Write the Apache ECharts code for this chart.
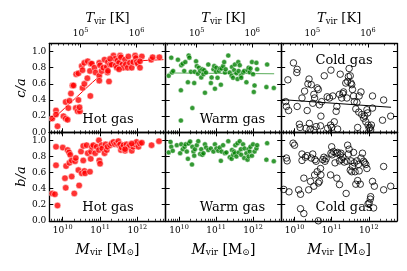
<!DOCTYPE html>
<html><head><meta charset="utf-8">
<script src="https://cdn.jsdelivr.net/npm/echarts@6/dist/echarts.min.js"></script>
<style>html,body{margin:0;padding:0;background:#fff}#c{width:407px;height:271px}</style>
</head><body><div id="c"></div>
<script>
// x values are log10(M_vir / M_sun), y values are axis ratios
const hotCA = [[9.72,0.17],[9.82,0.27],[9.82,0.22],[9.86,0.075],[10.02,0.20],[10.08,0.17],[10.13,0.155],[10.08,0.375],[10.15,0.30],[10.18,0.39],[10.22,0.48],[10.26,0.58],[10.29,0.58],[10.35,0.30],[10.40,0.26],[10.42,0.40],[10.46,0.26],[10.45,0.31],[10.36,0.72],[10.42,0.73],[10.51,0.82],[10.53,0.77],[10.58,0.86],[10.67,0.88],[10.53,0.55],[10.58,0.60],[10.66,0.67],[10.73,0.76],[10.74,0.45],[10.75,0.85],[10.78,0.85],[10.85,0.80],[10.88,0.74],[10.98,0.70],[10.98,0.64],[10.98,0.86],[11.0,0.83],[11.04,0.76],[11.09,0.80],[11.12,0.90],[11.18,0.81],[11.2,0.74],[11.24,0.63],[11.21,0.87],[11.27,0.84],[11.31,0.84],[11.36,0.95],[11.4,0.91],[11.42,0.83],[11.47,0.89],[11.51,0.86],[11.54,0.95],[11.56,0.93],[11.6,0.84],[11.62,0.80],[11.67,0.90],[11.69,0.84],[11.74,0.80],[11.76,0.94],[11.8,0.86],[11.85,0.80],[11.89,0.87],[11.94,0.95],[11.96,0.92],[11.98,0.87],[12.01,0.85],[12.07,0.80],[12.12,0.94],[12.07,0.88],[12.37,0.90],[12.41,0.93],[12.59,0.93],[11.45,0.80],[11.51,0.78],[11.21,0.76],[11.27,0.91]];
const hotBA = [[9.72,0.34],[9.79,0.33],[9.86,0.19],[9.82,0.92],[9.82,0.69],[10.0,0.91],[10.06,0.53],[10.08,0.41],[10.09,0.68],[10.13,0.88],[10.17,0.85],[10.2,0.82],[10.18,0.72],[10.24,0.75],[10.24,0.55],[10.31,0.34],[10.33,0.74],[10.35,0.78],[10.42,0.63],[10.44,0.44],[10.49,0.86],[10.51,0.59],[10.55,0.75],[10.55,0.93],[10.58,0.62],[10.6,0.59],[10.64,0.94],[10.67,0.84],[10.73,0.61],[10.75,0.77],[10.76,0.86],[10.78,0.92],[10.82,0.94],[10.87,0.84],[10.91,0.92],[10.97,1.0],[10.97,0.88],[10.98,0.75],[11.0,0.71],[11.04,0.94],[11.06,0.90],[11.12,0.84],[11.15,0.95],[11.18,0.88],[11.2,0.92],[11.27,0.94],[11.31,0.96],[11.36,0.98],[11.4,0.95],[11.45,0.96],[11.49,0.99],[11.51,0.94],[11.54,0.95],[11.56,0.88],[11.58,0.91],[11.63,0.94],[11.67,0.87],[11.71,0.95],[11.76,0.92],[11.8,0.94],[11.85,0.87],[11.89,0.92],[11.94,0.95],[11.98,0.98],[12.03,0.92],[12.07,0.96],[12.12,0.97],[12.38,0.94],[12.58,0.99],[11.67,0.89],[11.85,0.96]];
const warmCA = [[9.72,0.70],[9.79,0.925],[9.81,0.74],[9.84,0.76],[9.97,0.90],[10.05,0.52],[10.05,0.145],[10.06,0.83],[10.1,0.85],[10.14,0.76],[10.17,0.87],[10.24,0.62],[10.26,0.95],[10.28,0.925],[10.32,0.75],[10.36,0.30],[10.41,0.61],[10.42,0.75],[10.46,0.88],[10.48,0.82],[10.51,0.725],[10.54,0.80],[10.57,0.76],[10.6,0.68],[10.63,0.78],[10.66,0.72],[10.68,0.77],[10.7,0.49],[10.73,0.74],[10.79,0.84],[10.86,0.61],[10.88,0.68],[10.93,0.78],[10.95,0.82],[10.97,0.54],[11.0,0.75],[11.01,0.80],[11.04,0.675],[11.08,0.76],[11.11,0.79],[11.13,0.59],[11.15,0.79],[11.19,0.82],[11.22,0.87],[11.24,0.74],[11.26,0.78],[11.33,0.95],[11.37,0.74],[11.42,0.70],[11.43,0.81],[11.46,0.675],[11.49,0.77],[11.51,0.84],[11.55,0.73],[11.58,0.66],[11.6,0.87],[11.61,0.76],[11.64,0.83],[11.67,0.70],[11.68,0.675],[11.73,0.74],[11.76,0.76],[11.82,0.62],[11.85,0.77],[11.88,0.80],[11.91,0.745],[11.93,0.79],[11.97,0.87],[12.0,0.72],[12.02,0.50],[12.04,0.58],[12.09,0.86],[12.11,0.78],[12.36,0.56],[12.38,0.84],[12.56,0.55]];
const warmBA = [[9.72,0.85],[9.77,0.98],[9.79,0.92],[9.83,0.87],[9.94,0.94],[10.03,0.84],[10.06,0.95],[10.1,0.89],[10.15,0.92],[10.18,0.95],[10.21,0.86],[10.24,0.77],[10.26,0.96],[10.3,0.985],[10.35,0.70],[10.36,0.92],[10.39,0.86],[10.41,0.81],[10.43,0.89],[10.48,0.94],[10.52,0.99],[10.57,0.83],[10.6,0.89],[10.63,0.82],[10.66,0.84],[10.7,0.95],[10.73,0.91],[10.79,0.88],[10.86,0.90],[10.93,0.86],[10.97,0.95],[11.01,0.90],[11.06,0.87],[11.1,0.91],[11.13,0.745],[11.15,0.86],[11.19,0.94],[11.24,0.84],[11.28,0.85],[11.33,0.99],[11.37,0.79],[11.42,0.77],[11.43,0.88],[11.46,0.82],[11.49,0.86],[11.51,0.84],[11.52,0.94],[11.55,0.80],[11.58,0.965],[11.61,0.85],[11.64,0.99],[11.67,0.89],[11.68,0.82],[11.73,0.95],[11.76,0.78],[11.77,0.90],[11.82,0.84],[11.85,0.76],[11.88,0.80],[11.88,0.89],[11.91,0.86],[11.93,0.92],[11.97,0.81],[12.0,0.95],[12.04,0.86],[12.09,0.90],[12.11,0.94],[12.36,0.76],[12.38,0.965],[12.56,0.74]];
const coldCA = [[9.82,0.65],[9.76,0.38],[9.78,0.32],[9.84,0.27],[9.97,0.86],[10.07,0.78],[10.06,0.74],[10.07,0.32],[10.13,0.10],[10.15,0.06],[10.2,0.425],[10.27,0.51],[10.34,0.27],[10.31,0.05],[10.36,0.60],[10.39,0.66],[10.4,0.11],[10.42,0.04],[10.45,0.59],[10.49,0.36],[10.52,0.47],[10.54,0.425],[10.52,0.03],[10.58,0.07],[10.61,0.55],[10.64,0.53],[10.67,0.34],[10.7,0.08],[10.71,0.20],[10.73,0.38],[10.8,0.70],[10.88,0.44],[10.94,0.425],[10.97,0.09],[10.98,0.77],[11.0,0.06],[11.03,0.45],[11.07,0.13],[11.12,0.26],[11.14,0.32],[11.21,0.47],[11.23,0.72],[11.27,0.425],[11.3,0.48],[11.32,0.50],[11.38,0.61],[11.41,0.425],[11.43,0.63],[11.45,0.69],[11.47,0.79],[11.5,0.70],[11.52,0.61],[11.54,0.59],[11.56,0.53],[11.59,0.45],[11.61,0.38],[11.65,0.29],[11.68,0.37],[11.7,0.06],[11.73,0.25],[11.74,0.45],[11.79,0.50],[11.81,0.22],[11.86,0.175],[11.89,0.20],[11.92,0.13],[11.95,0.28],[11.97,0.24],[11.98,0.09],[12.01,0.05],[12.04,0.06],[12.05,0.03],[12.07,0.09],[12.1,0.30],[12.1,0.45],[12.37,0.15],[12.4,0.40],[12.59,0.20],[10.89,0.05],[11.16,0.04]];
const coldBA = [[9.71,0.39],[9.78,0.78],[9.8,0.745],[9.85,0.36],[9.96,0.965],[10.0,0.94],[10.11,0.385],[10.16,0.33],[10.2,0.83],[10.2,0.75],[10.25,0.53],[10.29,0.79],[10.34,0.81],[10.38,0.385],[10.43,0.49],[10.45,0.78],[10.49,0.83],[10.52,0.43],[10.54,0.57],[10.55,0.76],[10.58,0.74],[10.61,0.61],[10.64,0.47],[10.67,0.49],[10.7,0.65],[10.71,0.57],[10.76,0.76],[10.79,0.79],[10.82,0.74],[10.85,0.77],[10.97,0.57],[10.98,0.84],[11.0,0.92],[11.01,0.82],[11.05,0.86],[11.09,0.72],[11.12,0.84],[11.14,0.53],[11.16,0.85],[11.21,0.745],[11.21,0.45],[11.23,0.82],[11.25,0.84],[11.27,0.76],[11.3,0.79],[11.34,0.73],[11.39,0.34],[11.41,0.74],[11.43,0.94],[11.45,0.83],[11.47,0.89],[11.5,0.63],[11.52,0.745],[11.54,0.61],[11.56,0.675],[11.59,0.85],[11.61,0.72],[11.63,0.61],[11.65,0.455],[11.68,0.745],[11.7,0.50],[11.72,0.70],[11.74,0.62],[11.77,0.455],[11.79,0.78],[11.83,0.84],[11.86,0.74],[11.89,0.72],[11.92,0.70],[11.95,0.65],[11.98,0.21],[12.01,0.22],[12.04,0.27],[12.05,0.30],[12.1,0.49],[12.13,0.16],[12.15,0.43],[12.4,0.675],[12.4,0.385],[12.59,0.43],[10.16,0.15],[10.25,0.09],[10.64,0.0]];
// fitted trend lines
const hotFitCA = [[9.66,0.13],[10.8,0.62],[11.3,0.82],[11.7,0.88],[12.7,0.90]];
const warmFitCA = [[9.72,0.735],[12.57,0.725]];
const coldFitCA = [[9.65,0.405],[12.6,0.31]];

const mRange = [9.64, 12.76];
const tRange = [4.442, 6.522];
const yRange = [0, 1.1];
const mTicks = [10, 11, 12];
const tTicks = [5, 6];
const yTicks = [0, 0.2, 0.4, 0.6, 0.8, 1.0];
const gasNames = ['Hot gas', 'Warm gas', 'Cold gas'];

const F = 'DejaVu Serif';
const colLeft = [49.3, 165.7, 281.2];
const colWidth = [116.4, 115.5, 115.8];
const rowTop = [43.5, 132.3];
const rowHeight = [88.8, 88.5];

function minorTicks(lo, hi, n0, n1) {
  const out = [];
  for (let n = n0; n <= n1; n++) for (let k = 2; k <= 9; k++) {
    const v = n + Math.log10(k);
    if (v > lo && v < hi) out.push(v);
  }
  return out;
}
const mMinor = minorTicks(mRange[0], mRange[1], 9, 12);
const tMinor = minorTicks(tRange[0], tRange[1], 4, 6);

const supRich = {
  a: {fontFamily: F, fontSize: 9, color: '#000'},
  b: {fontFamily: F, fontSize: 6.5, color: '#000', padding: [0, 0, 7, 0]}
};
function xAx(g, pos, range, major, minor, isMajor, showLabels) {
  return {
    type: 'value', gridIndex: g, position: pos, min: range[0], max: range[1],
    axisLine: {show: isMajor, onZero: false, lineStyle: {color: '#000', width: 1.3}},
    axisTick: {show: true, inside: true, length: isMajor ? 4 : 2,
      customValues: isMajor ? major : minor, lineStyle: {color: '#000', width: isMajor ? 1 : 0.8}},
    axisLabel: {show: showLabels && isMajor, customValues: major, margin: 3,
      formatter: v => '{a|10}{b|' + Math.round(v) + '}', rich: supRich},
    splitLine: {show: false}
  };
}
function yAx(g, pos, showLabels) {
  return {
    type: 'value', gridIndex: g, position: pos, min: yRange[0], max: yRange[1],
    axisLine: {show: true, onZero: false, lineStyle: {color: '#000', width: 1.3}},
    axisTick: {show: true, inside: true, length: 4, customValues: yTicks, lineStyle: {color: '#000', width: 1}},
    axisLabel: {show: showLabels, customValues: yTicks, margin: 3, fontFamily: F, fontSize: 9, color: '#000',
      formatter: v => v.toFixed(1)},
    splitLine: {show: false}
  };
}

const grids = [], xAxes = [], yAxes = [], series = [];
const panels = [
  {row: 0, col: 0, data: hotCA, fit: hotFitCA, kind: 'hot'},
  {row: 0, col: 1, data: warmCA, fit: warmFitCA, kind: 'warm'},
  {row: 0, col: 2, data: coldCA, fit: coldFitCA, kind: 'cold'},
  {row: 1, col: 0, data: hotBA, fit: null, kind: 'hot'},
  {row: 1, col: 1, data: warmBA, fit: null, kind: 'warm'},
  {row: 1, col: 2, data: coldBA, fit: null, kind: 'cold'}
];
const styles = {
  hot: {symbolSize: 6.5, itemStyle: {color: '#ff0000', borderColor: '#ffffff', borderWidth: 0.6}, line: '#ff0000'},
  warm: {symbolSize: 5, itemStyle: {color: '#008000', borderColor: '#ffffff', borderWidth: 0.5}, line: 'rgba(0,128,0,0.65)'},
  cold: {symbolSize: 6.5, itemStyle: {color: 'rgba(0,0,0,0)', borderColor: '#000000', borderWidth: 1}, line: '#000000'}
};
panels.forEach((p, g) => {
  grids.push({left: colLeft[p.col], width: colWidth[p.col], top: rowTop[p.row], height: rowHeight[p.row]});
  const bottomLabels = p.row === 1;
  xAxes.push(xAx(g, 'bottom', mRange, mTicks, mMinor, true, bottomLabels));
  xAxes.push(xAx(g, 'bottom', mRange, mTicks, mMinor, false, false));
  if (p.row === 0) {
    xAxes.push(xAx(g, 'top', tRange, tTicks, tMinor, true, true));
    xAxes.push(xAx(g, 'top', tRange, tTicks, tMinor, false, false));
  } else {
    xAxes.push(xAx(g, 'top', mRange, mTicks, mMinor, true, false));
    xAxes.push(xAx(g, 'top', mRange, mTicks, mMinor, false, false));
  }
  yAxes.push(yAx(g, 'left', p.col === 0));
  yAxes.push(yAx(g, 'right', false));
  const st = styles[p.kind];
  if (p.fit) {
    series.push({type: 'line', xAxisIndex: g * 4, yAxisIndex: g * 2, data: p.fit, showSymbol: false,
      lineStyle: {color: st.line, width: 1}, z: 1});
  }
  series.push({type: 'scatter', xAxisIndex: g * 4, yAxisIndex: g * 2, data: p.data,
    symbolSize: st.symbolSize, itemStyle: st.itemStyle, z: 2});
});

const graphics = [];
const labelY = [[120, 208], [119.5, 208], [60.5, 208]];
[0, 1, 2].forEach(c => {
  const cx = colLeft[c] + colWidth[c] / 2;
  const lx = c === 2 ? 344 : (c === 1 ? 232.5 : 108);
  [0, 1].forEach(r => {
    graphics.push({type: 'text', x: lx, y: labelY[c][r], z: 10,
      style: {text: gasNames[c], font: '13px "DejaVu Serif"', fill: '#000', align: 'center', verticalAlign: 'middle'}});
  });
  graphics.push({type: 'text', x: cx, y: 250, z: 10,
    style: {text: '{i|M}{s|vir}{r| [M}{s|⊙}{r|]}', align: 'center', verticalAlign: 'middle',
      rich: {i: {fontFamily: F, fontStyle: 'italic', fontSize: 14, fill: '#000'},
             s: {fontFamily: F, fontSize: 9, fill: '#000', padding: [6, 0, 0, 0]},
             r: {fontFamily: F, fontSize: 14, fill: '#000'}}}});
  graphics.push({type: 'text', x: cx, y: 18.5, z: 10,
    style: {text: '{i|T}{s|vir}{r| [K]}', align: 'center', verticalAlign: 'middle',
      rich: {i: {fontFamily: F, fontStyle: 'italic', fontSize: 13, fill: '#000'},
             s: {fontFamily: F, fontSize: 8.5, fill: '#000', padding: [6, 0, 0, 0]},
             r: {fontFamily: F, fontSize: 13, fill: '#000'}}}});
});
graphics.push({type: 'text', x: 22, y: 88, rotation: Math.PI / 2, z: 10,
  style: {text: 'c/a', font: 'italic 13px "DejaVu Serif"', fill: '#000', align: 'center', verticalAlign: 'middle'}});
graphics.push({type: 'text', x: 22, y: 176.5, rotation: Math.PI / 2, z: 10,
  style: {text: 'b/a', font: 'italic 13px "DejaVu Serif"', fill: '#000', align: 'center', verticalAlign: 'middle'}});

const chart = echarts.init(document.getElementById('c'), null, {renderer: 'canvas'});
chart.setOption({
  animation: false,
  textStyle: {fontFamily: F},
  grid: grids, xAxis: xAxes, yAxis: yAxes, series: series, graphic: graphics
});
</script></body></html>
